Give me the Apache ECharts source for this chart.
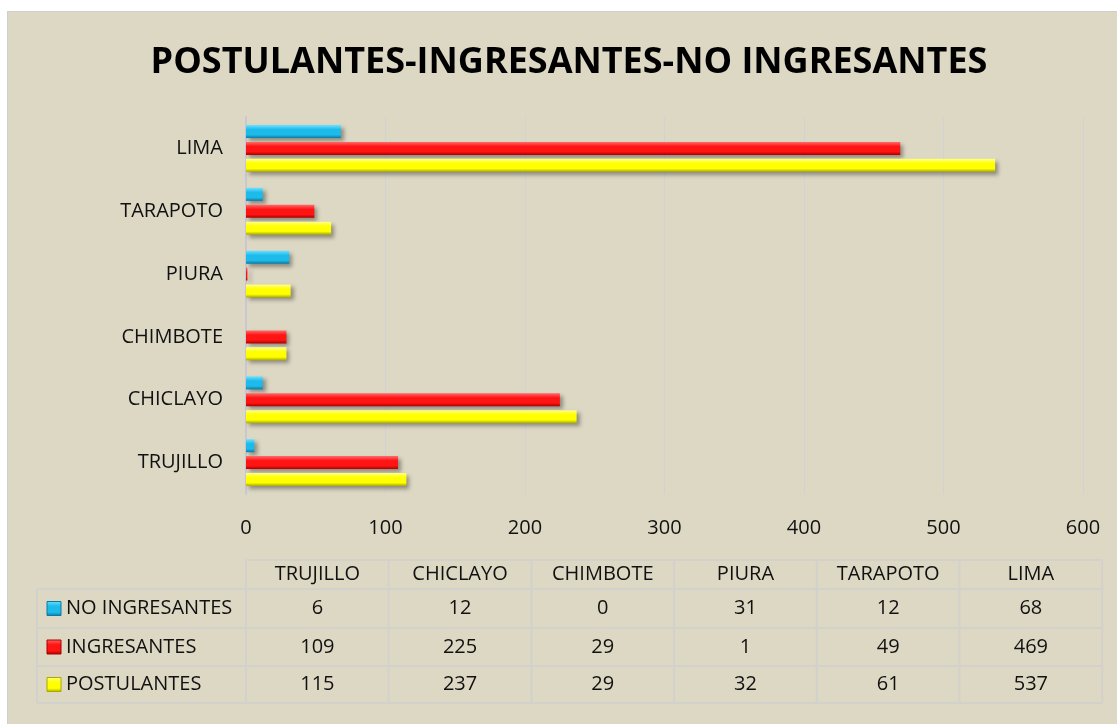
<!DOCTYPE html>
<html>
<head>
<meta charset="utf-8">
<script src="https://cdn.jsdelivr.net/npm/echarts@6/dist/echarts.min.js"></script>
<style>
    body{margin:0;background:#fff;}
    #chart{position:absolute;left:7px;top:11px;width:1110px;height:713px;background:#ddd8c4;border-left:1px solid #cfcfcf;border-top:1px solid #cfcfcf;box-sizing:border-box;}
</style>
</head>
<body>
<div id="chart"></div>
<script>
let chart = echarts.init(document.getElementById("chart"));

//datos
let ciudades = ['TRUJILLO', 'CHICLAYO', 'CHIMBOTE', 'PIURA', 'TARAPOTO', 'LIMA'];
let noIngresantes = [6, 12, 0, 31, 12, 68];
let ingresantes = [109, 225, 29, 1, 49, 469];
let postulantes = [115, 237, 29, 32, 61, 537];
let ejeX = [0, 100, 200, 300, 400, 500, 600];

let fuente = "'Open Sans', sans-serif";

function degradado(claro, medio, oscuro) {
    return new echarts.graphic.LinearGradient(0, 0, 0, 1, [
        {offset: 0, color: claro},
        {offset: 0.35, color: medio},
        {offset: 0.75, color: medio},
        {offset: 1, color: oscuro}
    ]);
}

let series = [
    {name: 'NO INGRESANTES', data: noIngresantes, colors: ['#6fe0ff', '#1cbbea', '#0c78a6']},
    {name: 'INGRESANTES', data: ingresantes, colors: ['#ff6a6a', '#ff1414', '#a80000']},
    {name: 'POSTULANTES', data: postulantes, colors: ['#ffff8a', '#ffff00', '#a9a900']}
];

//tabla de datos debajo
let tablaX = 238, colW = 142.7, filaY = [548, 577, 616, 654, 691];
let elementos = [];
let lineaStyle = {stroke: '#d3d1cb', lineWidth: 2};
elementos.push({type: 'line', shape: {x1: tablaX, y1: filaY[0], x2: tablaX + colW * 6, y2: filaY[0]}, style: lineaStyle});
for (let i = 1; i < filaY.length; i++) {
    elementos.push({type: 'line', shape: {x1: 29, y1: filaY[i], x2: tablaX + colW * 6, y2: filaY[i]}, style: lineaStyle});
}
elementos.push({type: 'line', shape: {x1: 29, y1: filaY[1], x2: 29, y2: filaY[4]}, style: lineaStyle});
for (let i = 0; i <= ciudades.length; i++) {
    elementos.push({type: 'line', shape: {x1: tablaX + colW * i, y1: filaY[0], x2: tablaX + colW * i, y2: filaY[4]}, style: lineaStyle});
}
for (let i = 0; i < ciudades.length; i++) {
    elementos.push({
        type: 'text', x: tablaX + colW * (i + 0.5), y: (filaY[0] + filaY[1]) / 2,
        style: {text: ciudades[i], fill: '#111', font: "20px " + fuente, align: 'center', verticalAlign: 'middle'}
    });
}
series.forEach(function (s, r) {
    let cy = (filaY[r + 1] + filaY[r + 2]) / 2;
    elementos.push({
        type: 'rect', shape: {x: 39, y: cy - 7, width: 14, height: 14},
        style: {fill: degradado(s.colors[0], s.colors[1], s.colors[2]), stroke: s.colors[2], lineWidth: 1}
    });
    elementos.push({
        type: 'text', x: 58, y: cy,
        style: {text: s.name, fill: '#111', font: "20px " + fuente, align: 'left', verticalAlign: 'middle'}
    });
    for (let i = 0; i < ciudades.length; i++) {
        elementos.push({
            type: 'text', x: tablaX + colW * (i + 0.5), y: cy,
            style: {text: String(s.data[i]), fill: '#111', font: "20px " + fuente, align: 'center', verticalAlign: 'middle'}
        });
    }
});

let option = {
    animation: false,
    title: {
        text: 'POSTULANTES-INGRESANTES-NO INGRESANTES',
        left: 556,
        top: 28,
        textAlign: 'center',
        textStyle: {
            fontFamily: fuente,
            fontSize: 36,
            fontWeight: 'bold',
            color: '#000'
        }
    },
    grid: {
        left: 238,
        top: 105,
        width: 837,
        height: 377
    },
    xAxis: {
        type: 'value',
        min: ejeX[0],
        max: ejeX[ejeX.length - 1],
        interval: 100,
        axisLine: {show: false},
        axisTick: {show: false},
        axisLabel: {
            margin: 24,
            color: '#111',
            fontSize: 20,
            fontFamily: fuente
        },
        splitLine: {
            lineStyle: {color: '#d2d1d4', width: 1}
        }
    },
    yAxis: {
        type: 'category',
        data: ciudades,
        axisLine: {
            lineStyle: {color: '#c9c8d2', width: 2}
        },
        axisTick: {show: false},
        axisLabel: {
            margin: 23,
            color: '#111',
            fontSize: 20,
            fontFamily: fuente
        }
    },
    series: series.map(function (s) {
        return {
            name: s.name,
            type: 'bar',
            data: s.data,
            barWidth: 13,
            barGap: '30%',
            itemStyle: {
                color: degradado(s.colors[0], s.colors[1], s.colors[2]),
                shadowColor: 'rgba(0,0,0,0.35)',
                shadowBlur: 4,
                shadowOffsetX: 3,
                shadowOffsetY: 3
            }
        };
    }),
    graphic: elementos
};
chart.setOption(option);
window.addEventListener('resize', function () {chart.resize();});
</script>
</body>
</html>
